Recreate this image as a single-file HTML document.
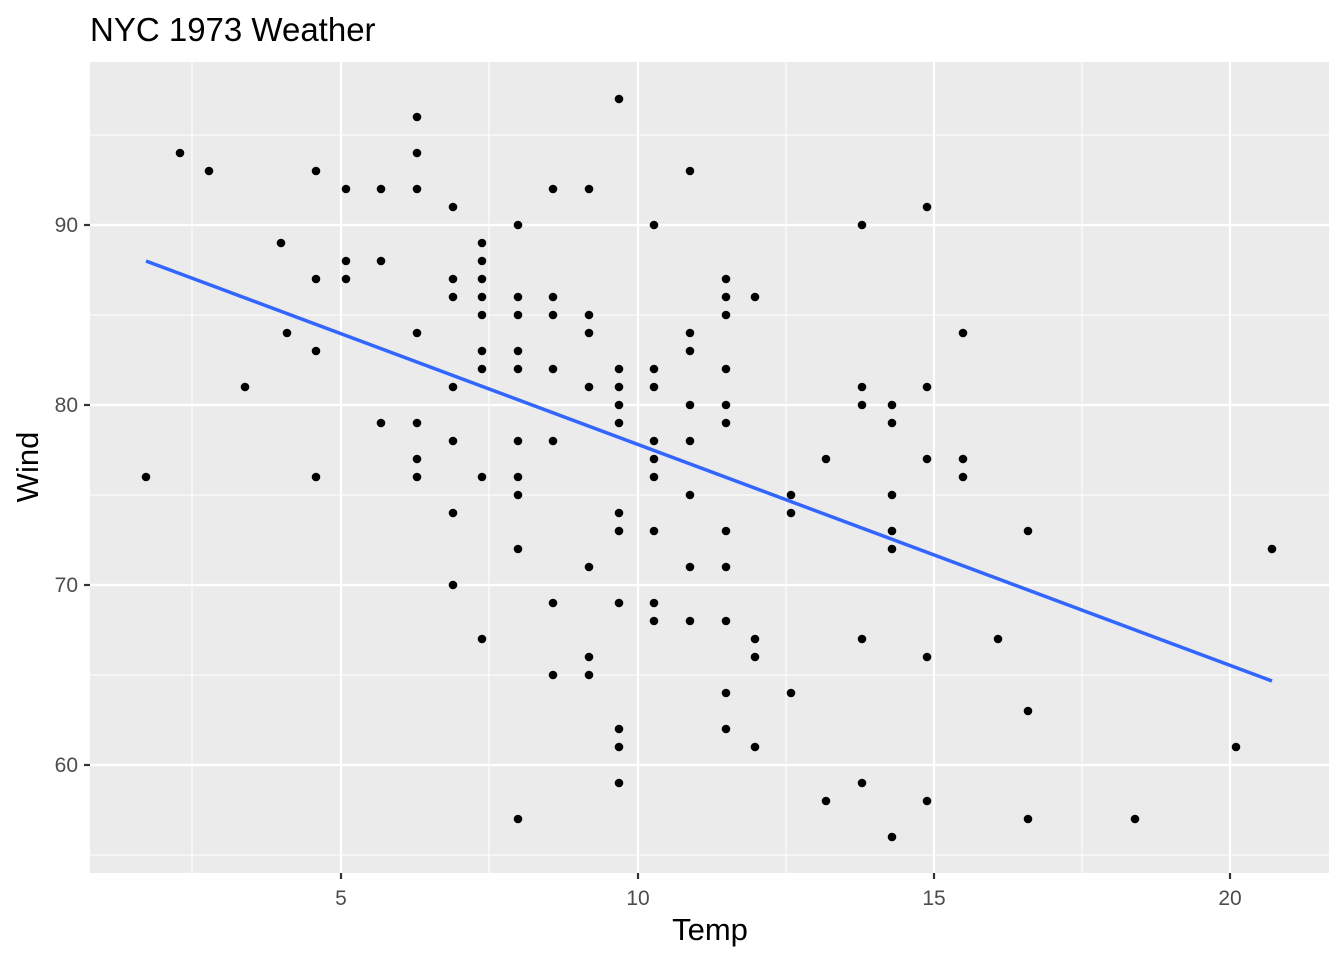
<!DOCTYPE html>
<html><head><meta charset="utf-8"><style>
html,body{margin:0;padding:0;background:#fff;}
svg{display:block;font-family:"Liberation Sans",Arial,sans-serif;}
</style></head><body>
<svg width="1344" height="960" viewBox="0 0 1344 960" xmlns="http://www.w3.org/2000/svg">
<rect width="1344" height="960" fill="#fff"/>
<text x="90" y="41" font-size="33" fill="#000">NYC 1973 Weather</text>
<rect x="90" y="62" width="1239" height="811" fill="#ebebeb"/>
<g stroke="#fff" stroke-width="1.1">
<line x1="192" y1="62" x2="192" y2="873"/><line x1="489" y1="62" x2="489" y2="873"/>
<line x1="786" y1="62" x2="786" y2="873"/><line x1="1082" y1="62" x2="1082" y2="873"/>
<line x1="90" y1="135" x2="1329" y2="135"/><line x1="90" y1="315" x2="1329" y2="315"/>
<line x1="90" y1="495" x2="1329" y2="495"/><line x1="90" y1="675" x2="1329" y2="675"/>
<line x1="90" y1="855" x2="1329" y2="855"/>
</g>
<g stroke="#fff" stroke-width="2.2">
<line x1="341" y1="62" x2="341" y2="873"/><line x1="638" y1="62" x2="638" y2="873"/>
<line x1="934" y1="62" x2="934" y2="873"/><line x1="1230" y1="62" x2="1230" y2="873"/>
<line x1="90" y1="225" x2="1329" y2="225"/><line x1="90" y1="405" x2="1329" y2="405"/>
<line x1="90" y1="585" x2="1329" y2="585"/><line x1="90" y1="765" x2="1329" y2="765"/>
</g>
<g stroke="#333" stroke-width="2.2">
<line x1="341" y1="873" x2="341" y2="879"/><line x1="638" y1="873" x2="638" y2="879"/>
<line x1="934" y1="873" x2="934" y2="879"/><line x1="1230" y1="873" x2="1230" y2="879"/>
<line x1="84" y1="225" x2="90" y2="225"/><line x1="84" y1="405" x2="90" y2="405"/>
<line x1="84" y1="585" x2="90" y2="585"/><line x1="84" y1="765" x2="90" y2="765"/>
</g>
<g font-size="21" fill="#4d4d4d" text-anchor="middle">
<text x="341" y="905">5</text><text x="638" y="905">10</text><text x="934" y="905">15</text><text x="1230" y="905">20</text>
</g>
<g font-size="21" fill="#4d4d4d" text-anchor="end">
<text x="78" y="232">90</text><text x="78" y="412">80</text><text x="78" y="592">70</text><text x="78" y="772">60</text>
</g>
<text x="710" y="940" font-size="31" text-anchor="middle" fill="#000">Temp</text>
<text transform="translate(38,467) rotate(-90)" font-size="31" text-anchor="middle" fill="#000">Wind</text>
<g fill="#000">
<circle cx="146" cy="477" r="4.3"/><circle cx="180" cy="153" r="4.3"/><circle cx="209" cy="171" r="4.3"/><circle cx="245" cy="387" r="4.3"/><circle cx="281" cy="243" r="4.3"/><circle cx="287" cy="333" r="4.3"/><circle cx="316" cy="171" r="4.3"/><circle cx="316" cy="279" r="4.3"/><circle cx="316" cy="351" r="4.3"/><circle cx="316" cy="477" r="4.3"/>
<circle cx="346" cy="189" r="4.3"/><circle cx="346" cy="261" r="4.3"/><circle cx="346" cy="279" r="4.3"/><circle cx="381" cy="189" r="4.3"/><circle cx="381" cy="261" r="4.3"/><circle cx="381" cy="423" r="4.3"/>
<circle cx="417" cy="117" r="4.3"/><circle cx="417" cy="153" r="4.3"/><circle cx="417" cy="189" r="4.3"/><circle cx="417" cy="333" r="4.3"/><circle cx="417" cy="423" r="4.3"/><circle cx="417" cy="459" r="4.3"/><circle cx="417" cy="477" r="4.3"/>
<circle cx="453" cy="207" r="4.3"/><circle cx="453" cy="279" r="4.3"/><circle cx="453" cy="297" r="4.3"/><circle cx="453" cy="387" r="4.3"/><circle cx="453" cy="441" r="4.3"/><circle cx="453" cy="513" r="4.3"/><circle cx="453" cy="585" r="4.3"/>
<circle cx="482" cy="243" r="4.3"/><circle cx="482" cy="261" r="4.3"/><circle cx="482" cy="279" r="4.3"/><circle cx="482" cy="297" r="4.3"/><circle cx="482" cy="315" r="4.3"/><circle cx="482" cy="351" r="4.3"/><circle cx="482" cy="369" r="4.3"/><circle cx="482" cy="477" r="4.3"/><circle cx="482" cy="639" r="4.3"/>
<circle cx="518" cy="225" r="4.3"/><circle cx="518" cy="297" r="4.3"/><circle cx="518" cy="315" r="4.3"/><circle cx="518" cy="351" r="4.3"/><circle cx="518" cy="369" r="4.3"/><circle cx="518" cy="441" r="4.3"/><circle cx="518" cy="477" r="4.3"/><circle cx="518" cy="495" r="4.3"/><circle cx="518" cy="549" r="4.3"/><circle cx="518" cy="819" r="4.3"/>
<circle cx="553" cy="189" r="4.3"/><circle cx="553" cy="297" r="4.3"/><circle cx="553" cy="315" r="4.3"/><circle cx="553" cy="369" r="4.3"/><circle cx="553" cy="441" r="4.3"/><circle cx="553" cy="603" r="4.3"/><circle cx="553" cy="675" r="4.3"/>
<circle cx="589" cy="189" r="4.3"/><circle cx="589" cy="315" r="4.3"/><circle cx="589" cy="333" r="4.3"/><circle cx="589" cy="387" r="4.3"/><circle cx="589" cy="567" r="4.3"/><circle cx="589" cy="657" r="4.3"/><circle cx="589" cy="675" r="4.3"/>
<circle cx="619" cy="99" r="4.3"/><circle cx="619" cy="369" r="4.3"/><circle cx="619" cy="387" r="4.3"/><circle cx="619" cy="405" r="4.3"/><circle cx="619" cy="423" r="4.3"/><circle cx="619" cy="513" r="4.3"/><circle cx="619" cy="531" r="4.3"/><circle cx="619" cy="603" r="4.3"/><circle cx="619" cy="729" r="4.3"/><circle cx="619" cy="747" r="4.3"/><circle cx="619" cy="783" r="4.3"/>
<circle cx="654" cy="225" r="4.3"/><circle cx="654" cy="369" r="4.3"/><circle cx="654" cy="387" r="4.3"/><circle cx="654" cy="441" r="4.3"/><circle cx="654" cy="459" r="4.3"/><circle cx="654" cy="477" r="4.3"/><circle cx="654" cy="531" r="4.3"/><circle cx="654" cy="603" r="4.3"/><circle cx="654" cy="621" r="4.3"/>
<circle cx="690" cy="171" r="4.3"/><circle cx="690" cy="333" r="4.3"/><circle cx="690" cy="351" r="4.3"/><circle cx="690" cy="405" r="4.3"/><circle cx="690" cy="441" r="4.3"/><circle cx="690" cy="495" r="4.3"/><circle cx="690" cy="567" r="4.3"/><circle cx="690" cy="621" r="4.3"/>
<circle cx="726" cy="279" r="4.3"/><circle cx="726" cy="297" r="4.3"/><circle cx="726" cy="315" r="4.3"/><circle cx="726" cy="369" r="4.3"/><circle cx="726" cy="405" r="4.3"/><circle cx="726" cy="423" r="4.3"/><circle cx="726" cy="531" r="4.3"/><circle cx="726" cy="567" r="4.3"/><circle cx="726" cy="621" r="4.3"/><circle cx="726" cy="693" r="4.3"/><circle cx="726" cy="729" r="4.3"/>
<circle cx="755" cy="297" r="4.3"/><circle cx="755" cy="639" r="4.3"/><circle cx="755" cy="657" r="4.3"/><circle cx="755" cy="747" r="4.3"/>
<circle cx="791" cy="495" r="4.3"/><circle cx="791" cy="513" r="4.3"/><circle cx="791" cy="693" r="4.3"/><circle cx="826" cy="459" r="4.3"/><circle cx="826" cy="801" r="4.3"/>
<circle cx="862" cy="225" r="4.3"/><circle cx="862" cy="387" r="4.3"/><circle cx="862" cy="405" r="4.3"/><circle cx="862" cy="639" r="4.3"/><circle cx="862" cy="783" r="4.3"/>
<circle cx="892" cy="405" r="4.3"/><circle cx="892" cy="423" r="4.3"/><circle cx="892" cy="495" r="4.3"/><circle cx="892" cy="531" r="4.3"/><circle cx="892" cy="549" r="4.3"/><circle cx="892" cy="837" r="4.3"/>
<circle cx="927" cy="207" r="4.3"/><circle cx="927" cy="387" r="4.3"/><circle cx="927" cy="459" r="4.3"/><circle cx="927" cy="657" r="4.3"/><circle cx="927" cy="801" r="4.3"/>
<circle cx="963" cy="333" r="4.3"/><circle cx="963" cy="459" r="4.3"/><circle cx="963" cy="477" r="4.3"/><circle cx="998" cy="639" r="4.3"/>
<circle cx="1028" cy="531" r="4.3"/><circle cx="1028" cy="711" r="4.3"/><circle cx="1028" cy="819" r="4.3"/><circle cx="1135" cy="819" r="4.3"/><circle cx="1236" cy="747" r="4.3"/><circle cx="1272" cy="549" r="4.3"/>
</g>
<line x1="146" y1="261" x2="1272" y2="681" stroke="#3366ff" stroke-width="3.5"/>
</svg>
</body></html>
